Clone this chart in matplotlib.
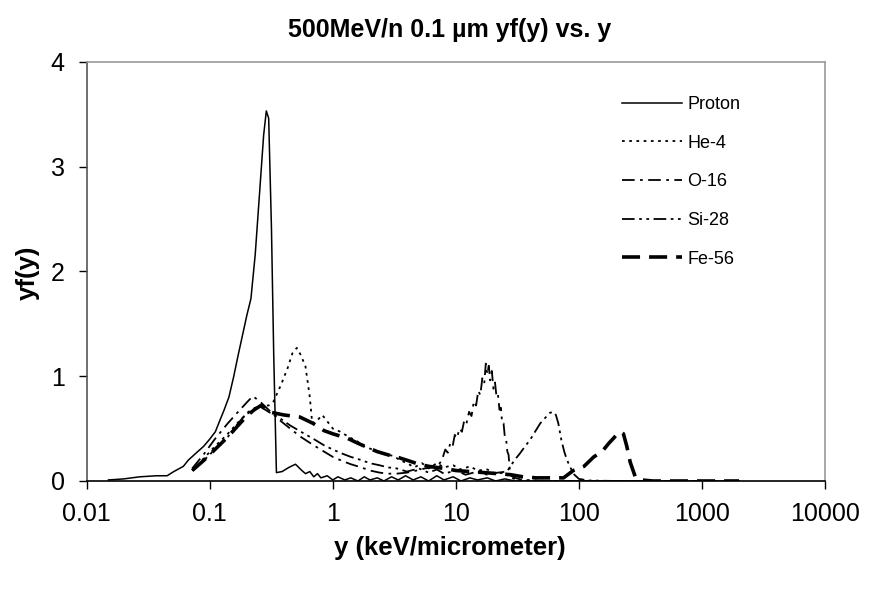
import matplotlib
matplotlib.use('Agg')
import matplotlib.pyplot as plt

plt.rcParams['font.family'] = ['Liberation Sans', 'DejaVu Sans']

# Proton
proton_x = [0.015, 0.02, 0.027, 0.037, 0.045, 0.051, 0.061, 0.067, 0.078, 0.089,
            0.1, 0.111, 0.12, 0.13, 0.143, 0.156, 0.17, 0.186, 0.2, 0.216,
            0.234, 0.255, 0.274, 0.288, 0.301, 0.317, 0.331, 0.348, 0.387, 0.44,
            0.497, 0.56, 0.6, 0.65, 0.7, 0.75, 0.8, 0.9, 1.0, 1.1,
            1.25, 1.4, 1.6, 1.8, 2.0, 2.3, 2.6, 3.0, 3.4, 3.9,
            4.5, 5.2, 6.0, 7.0, 8.0, 9.5, 11, 13, 15, 18,
            21, 25, 30, 50, 100, 300, 1000, 2000]
proton_y = [0.01, 0.02, 0.04, 0.05, 0.05, 0.09, 0.14, 0.2, 0.27, 0.33,
            0.4, 0.47, 0.57, 0.67, 0.8, 0.99, 1.2, 1.41, 1.58, 1.74,
            2.16, 2.78, 3.30, 3.53, 3.46, 2.42, 1.19, 0.08, 0.09, 0.13,
            0.16, 0.10, 0.07, 0.09, 0.04, 0.07, 0.03, 0.05, 0.01, 0.04,
            0.01, 0.03, 0.0, 0.04, 0.01, 0.03, 0.0, 0.04, 0.01, 0.05,
            0.01, 0.04, 0.0, 0.05, 0.01, 0.04, 0.0, 0.03, 0.01, 0.03,
            0.0, 0.02, 0.0, 0.0, 0.0, 0.0, 0.0, 0.0]

# He-4
he_x = [0.072, 0.09, 0.11, 0.14, 0.17, 0.2, 0.23, 0.26, 0.3, 0.33,
        0.38, 0.43, 0.47, 0.51, 0.55, 0.6, 0.65, 0.68, 0.75, 0.82,
        0.9, 1.0, 1.15, 1.35, 1.57, 1.8, 2.1, 2.5, 3.1, 3.5,
        4.0, 4.6, 5.3, 6.0, 7.0, 8.0, 9.5, 11, 13, 15,
        18, 21, 25, 28, 32, 40, 60, 100, 300, 1000]
he_y = [0.1, 0.22, 0.33, 0.45, 0.56, 0.64, 0.68, 0.72, 0.72, 0.76,
        0.92, 1.08, 1.22, 1.27, 1.2, 1.09, 0.8, 0.55, 0.58, 0.63,
        0.57, 0.5, 0.47, 0.42, 0.38, 0.33, 0.30, 0.26, 0.24, 0.20,
        0.17, 0.13, 0.17, 0.12, 0.17, 0.13, 0.15, 0.11, 0.14, 0.10,
        0.11, 0.07, 0.08, 0.03, 0.01, 0.005, 0.0, 0.0, 0.0, 0.0]

# O-16
o_x = [0.072, 0.09, 0.11, 0.14, 0.17, 0.2, 0.224, 0.26, 0.3, 0.37,
       0.45, 0.55, 0.7, 0.85, 1.0, 1.2, 1.4, 1.7, 2.0, 2.4,
       2.8, 3.3, 4.0, 4.8, 5.6, 6.5, 7.2, 7.7, 8.2, 8.6,
       9.0, 9.4, 9.8, 10.2, 10.7, 11.2, 11.7, 12.2, 12.8, 13.4,
       14.0, 14.6, 15.2, 15.8, 16.4, 17.0, 17.5, 18.0, 18.5, 19.0,
       19.6, 20.2, 20.8, 21.4, 22.0, 22.6, 23.2, 23.8, 24.4, 25.0,
       25.6, 26.2, 26.8, 27.4, 28.0, 30, 35, 50, 100, 300, 1000]
o_y = [0.12, 0.26, 0.4, 0.55, 0.66, 0.75, 0.81, 0.75, 0.68, 0.58,
       0.5, 0.42, 0.34, 0.28, 0.23, 0.19, 0.16, 0.13, 0.10, 0.08,
       0.07, 0.07, 0.08, 0.1, 0.12, 0.13, 0.15, 0.2, 0.30, 0.27,
       0.36, 0.33, 0.44, 0.41, 0.50, 0.47, 0.58, 0.55, 0.66, 0.62,
       0.76, 0.72, 0.86, 0.82, 0.98, 0.93, 1.12, 1.02, 1.10, 0.96,
       1.05, 0.88, 0.94, 0.80, 0.82, 0.68, 0.70, 0.55, 0.55, 0.42,
       0.40, 0.28, 0.25, 0.12, 0.05, 0.03, 0.01, 0.0, 0.0, 0.0, 0.0]

# Si-28
si_x = [0.072, 0.09, 0.11, 0.14, 0.17, 0.2, 0.25, 0.3, 0.37, 0.45,
        0.55, 0.7, 0.85, 1.0, 1.2, 1.4, 1.7, 2.0, 2.4, 2.8,
        3.3, 4, 5, 6, 7, 8, 10, 12, 15, 18,
        22, 26, 30, 33, 37, 40, 44, 48.5, 53, 58,
        62, 65, 68, 72, 76, 80, 90, 100, 120, 200,
        500, 1000]
si_y = [0.1, 0.2, 0.3, 0.42, 0.55, 0.65, 0.72, 0.66, 0.6, 0.53,
        0.47, 0.40, 0.34, 0.3, 0.26, 0.23, 0.2, 0.17, 0.15, 0.13,
        0.12, 0.09, 0.12, 0.08, 0.11, 0.07, 0.10, 0.06, 0.09, 0.06,
        0.08, 0.09, 0.2, 0.26, 0.34, 0.39, 0.47, 0.55, 0.6, 0.65,
        0.66, 0.63, 0.55, 0.39, 0.28, 0.2, 0.07, 0.02, 0.005, 0.0,
        0.0, 0.0]

# Fe-56
fe_x = [0.072, 0.09, 0.11, 0.14, 0.17, 0.2, 0.23, 0.26, 0.3, 0.4,
        0.54, 0.69, 0.85, 1.0, 1.3, 1.6, 2.0, 2.3, 2.8, 3.5,
        4.2, 5, 6, 8, 10, 13, 17, 22, 28, 35,
        45, 60, 75, 90, 110, 132, 145, 159, 175, 192,
        205, 216, 230, 245, 261, 287, 320, 400, 600, 1000,
        2000]
fe_y = [0.1, 0.2, 0.3, 0.42, 0.53, 0.62, 0.68, 0.72, 0.66, 0.63,
        0.61, 0.55, 0.48, 0.45, 0.41, 0.36, 0.31, 0.28, 0.25, 0.22,
        0.19, 0.16, 0.14, 0.12, 0.1, 0.09, 0.08, 0.07, 0.06, 0.04,
        0.03, 0.03, 0.03, 0.1, 0.14, 0.23, 0.26, 0.30, 0.36, 0.41,
        0.45, 0.47, 0.45, 0.33, 0.18, 0.04, 0.01, 0.0, 0.0, 0.0,
        0.0]

fig = plt.figure(figsize=(8.7, 5.92), dpi=100)
ax = fig.add_axes([0.0997, 0.1875, 0.8486, 0.7083])

ax.plot(proton_x, proton_y, color='black', lw=1.1, linestyle='-', label='Proton')
ax.plot(he_x, he_y, color='black', lw=1.3, linestyle=(0, (1.5, 2.5)), label='He-4')
ax.plot(o_x, o_y, color='black', lw=1.3, linestyle=(0, (7, 3, 1.5, 3)), label='O-16')
ax.plot(si_x, si_y, color='black', lw=1.3, linestyle=(0, (7, 2.5, 1.5, 2.5, 1.5, 2.5)), label='Si-28')
ax.plot(fe_x, fe_y, color='black', lw=2.6, linestyle=(0, (5, 2.5)), label='Fe-56')

ax.set_xscale('log')
ax.set_xlim(0.01, 10000)
ax.set_ylim(0, 4)
ax.set_yticks([0, 1, 2, 3, 4])
ax.set_xticks([0.01, 0.1, 1, 10, 100, 1000, 10000])
ax.set_xticklabels(['0.01', '0.1', '1', '10', '100', '1000', '10000'])
ax.minorticks_off()
ax.tick_params(axis='both', labelsize=18, length=6, width=1, direction='out')
ax.tick_params(axis='x', pad=9)
ax.tick_params(axis='y', pad=10)

ax.spines['left'].set_color('#555555')
ax.spines['bottom'].set_color('black')
ax.spines['top'].set_color('#999999')
ax.spines['right'].set_color('#999999')
for s in ax.spines.values():
    s.set_linewidth(1.2)

# legend placed in figure coordinates, no frame
leg = fig.legend(loc='upper left', bbox_to_anchor=(0.715, 0.838), frameon=False,
                 fontsize=13, handlelength=3.3, labelspacing=1.2,
                 handletextpad=0.3, borderpad=0.0, borderaxespad=0.0)

fig.text(0.517, 0.949, '500MeV/n 0.1 µm yf(y) vs. y', ha='center', va='center',
         fontsize=18, fontweight='bold')
fig.text(0.517, 0.074, 'y (keV/micrometer)', ha='center', va='center',
         fontsize=18.5, fontweight='bold')
fig.text(0.032, 0.54, 'yf(y)', ha='center', va='center', rotation=90,
         fontsize=18.5, fontweight='bold')

fig.savefig('out.png', dpi=100)
